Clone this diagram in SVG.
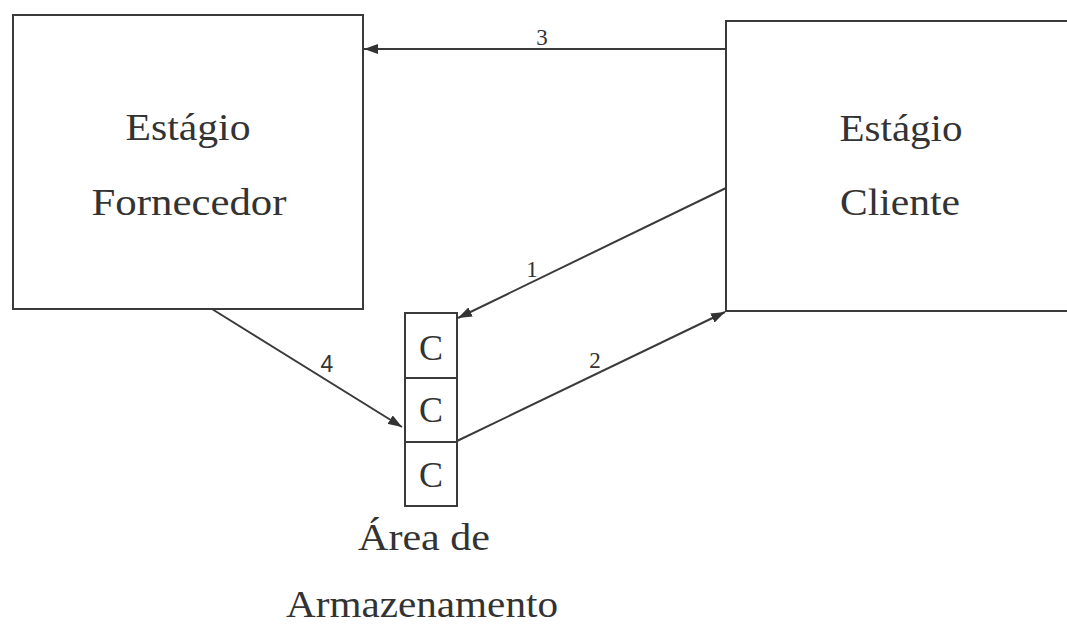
<svg xmlns="http://www.w3.org/2000/svg" width="1067" height="627" viewBox="0 0 1067 627">
  <style>
    .box { fill: none; stroke: #3a3a3a; stroke-width: 2; }
    .edge { fill: none; stroke: #3a3a3a; stroke-width: 2; }
    .lbl { font-size: 37px; fill: #333; text-anchor: middle; }
    .cell { font-size: 36px; fill: #333; text-anchor: middle; }
    .num { font-size: 23px; fill: #333; text-anchor: middle; }
  </style>
  <defs>
    <marker id="arrow" markerUnits="userSpaceOnUse" markerWidth="14" markerHeight="10" refX="14" refY="5" orient="auto">
      <path d="M0,0 L14,5 L0,10 z" fill="#333"/>
    </marker>
  </defs>
  <rect width="1067" height="627" fill="#ffffff"/>

  <!-- supplier stage -->
  <g id="fornecedor" font-family="Liberation Serif, serif">
    <rect class="box" x="13" y="15" width="350" height="294"/>
    <text class="lbl" x="188" y="140" textLength="125" lengthAdjust="spacingAndGlyphs">Estágio</text>
    <text class="lbl" x="189" y="215" textLength="195" lengthAdjust="spacingAndGlyphs">Fornecedor</text>
  </g>

  <!-- customer stage (runs off the right edge) -->
  <g id="cliente" font-family="Liberation Serif, serif">
    <rect class="box" x="726" y="21" width="400" height="290"/>
    <text class="lbl" x="901" y="141" textLength="123" lengthAdjust="spacingAndGlyphs">Estágio</text>
    <text class="lbl" x="900" y="215" textLength="120" lengthAdjust="spacingAndGlyphs">Cliente</text>
  </g>

  <!-- storage area: stack of three containers -->
  <g id="armazenamento" font-family="Liberation Serif, serif">
    <rect class="box" x="405" y="313" width="52" height="65"/>
    <rect class="box" x="405" y="378" width="52" height="64"/>
    <rect class="box" x="405" y="442" width="52" height="64"/>
    <text class="cell" x="431" y="360">C</text>
    <text class="cell" x="431" y="422">C</text>
    <text class="cell" x="431" y="487">C</text>
    <text class="lbl" x="424" y="550" textLength="132" lengthAdjust="spacingAndGlyphs">Área de</text>
    <text class="lbl" x="422" y="617" textLength="272" lengthAdjust="spacingAndGlyphs">Armazenamento</text>
  </g>

  <!-- flows -->
  <g id="connectors" font-family="Liberation Serif, serif">
    <line class="edge" x1="726" y1="49" x2="364" y2="49" marker-end="url(#arrow)"/>
    <line class="edge" x1="726" y1="188" x2="458" y2="318" marker-end="url(#arrow)"/>
    <line class="edge" x1="457" y1="441" x2="725" y2="312" marker-end="url(#arrow)"/>
    <line class="edge" x1="212" y1="309" x2="402" y2="427" marker-end="url(#arrow)"/>
    <text class="num" x="542" y="45">3</text>
    <text class="num" x="532" y="277">1</text>
    <text class="num" x="595" y="368">2</text>
    <text class="num" x="327" y="372" font-family="Liberation Sans, sans-serif">4</text>
  </g>
</svg>
